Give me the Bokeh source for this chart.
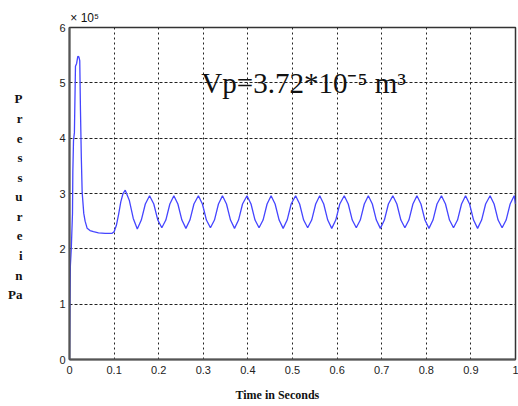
from bokeh.plotting import figure
from bokeh.models import Label, FixedTicker, LinearAxis
from bokeh.embed import file_html
from bokeh.resources import INLINE

# ---- data (pressure in units of 1e5 Pa, as on the axis) ----
time_s = [
    0, 0.001, 0.002, 0.004, 0.0067, 0.0075, 0.009, 0.011, 0.0134, 0.016,
    0.0186, 0.021, 0.023, 0.0246, 0.0265, 0.0284, 0.032, 0.035, 0.0396, 0.046,
    0.0537, 0.065, 0.08, 0.0956, 0.1, 0.105, 0.11, 0.115, 0.12, 0.125,
    0.134, 0.143, 0.152, 0.161, 0.170, 0.1795,
    0.189, 0.198, 0.207, 0.216, 0.225, 0.234,
    0.243, 0.252, 0.261, 0.270, 0.279, 0.289,
    0.298, 0.307, 0.316, 0.325, 0.334, 0.343,
    0.352, 0.361, 0.370, 0.379, 0.388, 0.398,
    0.407, 0.416, 0.425, 0.434, 0.443, 0.452,
    0.461, 0.470, 0.479, 0.488, 0.497, 0.507,
    0.516, 0.525, 0.534, 0.543, 0.552, 0.561,
    0.570, 0.579, 0.588, 0.597, 0.606, 0.616,
    0.625, 0.634, 0.643, 0.652, 0.661, 0.670,
    0.679, 0.688, 0.697, 0.706, 0.715, 0.725,
    0.734, 0.743, 0.752, 0.761, 0.770, 0.779,
    0.788, 0.797, 0.806, 0.815, 0.824, 0.834,
    0.843, 0.852, 0.861, 0.870, 0.879, 0.888,
    0.897, 0.906, 0.915, 0.924, 0.933, 0.943,
    0.952, 0.961, 0.970, 0.979, 0.988, 0.997,
    1.0,
]
pressure_1e5 = [
    0, 1.0, 1.7, 2.0, 2.64, 3.4, 3.96, 4.1, 5.3, 5.35,
    5.48, 5.47, 5.4, 4.5, 3.65, 3.02, 2.64, 2.5, 2.37, 2.33,
    2.31, 2.29, 2.28, 2.28, 2.31, 2.42, 2.62, 2.85, 3.0, 3.06,
    2.88, 2.55, 2.36, 2.52, 2.81, 2.96,
    2.81, 2.52, 2.38, 2.52, 2.81, 2.96,
    2.81, 2.52, 2.37, 2.52, 2.81, 2.96,
    2.81, 2.52, 2.38, 2.52, 2.81, 2.96,
    2.81, 2.52, 2.37, 2.52, 2.81, 2.96,
    2.81, 2.52, 2.38, 2.52, 2.81, 2.96,
    2.81, 2.52, 2.37, 2.52, 2.81, 2.96,
    2.81, 2.52, 2.38, 2.52, 2.81, 2.96,
    2.81, 2.52, 2.37, 2.52, 2.81, 2.96,
    2.81, 2.52, 2.38, 2.52, 2.81, 2.96,
    2.81, 2.52, 2.37, 2.52, 2.81, 2.96,
    2.81, 2.52, 2.38, 2.52, 2.81, 2.96,
    2.81, 2.52, 2.37, 2.52, 2.81, 2.96,
    2.81, 2.52, 2.38, 2.52, 2.81, 2.96,
    2.81, 2.52, 2.37, 2.52, 2.81, 2.96,
    2.81, 2.52, 2.38, 2.52, 2.81, 2.96,
    2.81, 2.52, 2.37, 2.52, 2.81, 2.96,
    2.95,
]
x_ticks = [0, 0.1, 0.2, 0.3, 0.4, 0.5, 0.6, 0.7, 0.8, 0.9, 1]
x_tick_labels = ["0", "0.1", "0.2", "0.3", "0.4", "0.5", "0.6", "0.7", "0.8", "0.9", "1"]
y_ticks = [0, 1, 2, 3, 4, 5, 6]
y_letters = ["P", "r", "e", "s", "s", "u", "r", "e", "i", "n", "Pa"]
x_title = "Time in Seconds"
y_multiplier = "\u00d7 10\u2075"
annotation_text = "Vp=3.72*10\u207b\u2075 m\u00b3"

p = figure(width=518, height=406, x_range=(0, 1), y_range=(0, 6),
           output_backend="svg", toolbar_location=None,
           min_border_left=69, min_border_right=3,
           min_border_top=27, min_border_bottom=47,
           background_fill_color="white", border_fill_color="white")

p.line(time_s, pressure_1e5, line_color="#4545ff", line_width=1.3)

xax = p.xaxis[0]
yax = p.yaxis[0]
xax.ticker = FixedTicker(ticks=x_ticks)
xax.major_label_overrides = {t: l for t, l in zip(x_ticks, x_tick_labels)}
yax.ticker = FixedTicker(ticks=y_ticks)
for ax in (xax, yax):
    ax.major_tick_line_color = None
    ax.minor_tick_line_color = None
    ax.major_tick_out = 0
    ax.major_tick_in = 0
    ax.minor_tick_out = 0
    ax.major_label_text_font = "Liberation Sans"
    ax.major_label_text_font_size = "11px"
    ax.major_label_text_color = "#222222"
    ax.axis_line_color = "#555555"
    ax.axis_line_width = 2
xax.major_label_standoff = 6
yax.major_label_standoff = 4

p.outline_line_color = "#333333"
p.outline_line_width = 1.5

p.xgrid.grid_line_color = "#222222"
p.xgrid.grid_line_dash = "2 3"
p.xgrid.grid_line_width = 1
p.ygrid.grid_line_color = "#222222"
p.ygrid.grid_line_dash = "3 2"
p.ygrid.grid_line_width = 1

serif = "Liberation Serif"


def text_axis(ticks, labels, font, size, style, standoff):
    ax = LinearAxis(ticker=FixedTicker(ticks=ticks),
                    major_label_overrides={t: l for t, l in zip(ticks, labels)})
    ax.axis_line_color = None
    ax.major_tick_line_color = None
    ax.minor_tick_line_color = None
    ax.major_tick_out = 0
    ax.major_tick_in = 0
    ax.minor_tick_out = 0
    ax.major_label_text_font = font
    ax.major_label_text_font_size = size
    ax.major_label_text_font_style = style
    ax.major_label_text_color = "#111111"
    ax.major_label_standoff = standoff
    return ax


# vertical stacked y-axis title (one horizontal letter per line)
letter_pos = [4.711 - i * 0.354 for i in range(len(y_letters))]
p.add_layout(text_axis(letter_pos, y_letters, serif, "13px", "bold", 34), "left")

# x-axis title
p.add_layout(text_axis([0.466], [x_title], serif, "12px", "bold", 11), "below")

# multiplier above the y axis
p.add_layout(text_axis([0.034], [y_multiplier], "Liberation Sans", "12px", "normal", 3), "above")

# annotation inside the axes
p.add_layout(Label(x=0.2956, y=4.99, text=annotation_text, text_font=serif,
                   text_font_size="29px", text_color="#111111",
                   text_align="left", text_baseline="alphabetic"))

open("out.html", "w").write(file_html(p, INLINE))
